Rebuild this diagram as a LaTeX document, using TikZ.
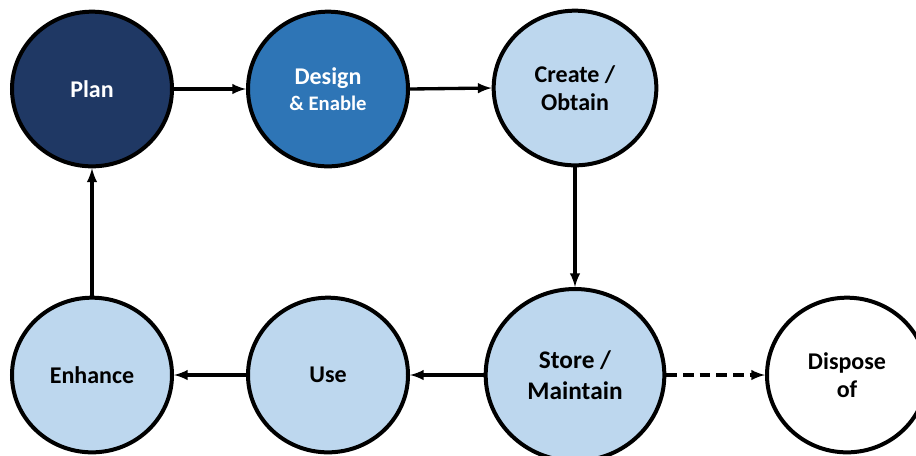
\documentclass[tikz,border=0pt]{standalone}
\usepackage{fontspec}
\setmainfont{Carlito}
\usetikzlibrary{shapes.geometric}

\definecolor{navy}{HTML}{1F3864}
\definecolor{midblue}{HTML}{2E75B6}
\definecolor{paleblue}{HTML}{BDD7EE}

\begin{document}
\begin{tikzpicture}[x=0.75pt,y=-0.75pt,>=latex]
	\tikzstyle{stage} = [ellipse, draw=black, line width=3pt, minimum width=120pt, minimum height=116pt, align=center, font=\fontsize{18}{21}\selectfont\bfseries]
	\tikzstyle{dark} = [stage, fill=navy, text=white]
	\tikzstyle{mid} = [stage, fill=midblue, text=white]
	\tikzstyle{pale} = [stage, fill=paleblue]
	\tikzstyle{flow} = [->, line width=2.5pt]
	\useasboundingbox (0,0) rectangle (916,455);

	\node[dark] (Plan) at (92,89) {Plan};
	\node[mid] (Design) at (328,89) {Design\\[-1pt]{\fontsize{15.5}{18}\selectfont \& Enable}};
	\node[pale, minimum width=122pt] (Create) at (575,88) {Create /\\Obtain};
	\node[pale, minimum width=134pt, minimum height=129pt, font=\fontsize{19}{23}\selectfont\bfseries] (Store) at (575,375) {Store /\\Maintain};
	\node[pale] (Use) at (328,375) {Use};
	\node[pale] (Enhance) at (92,375) {Enhance};
	\node[stage, fill=white] (Dispose) at (847,375) {Dispose\\of};

	\draw[flow] (Plan.east) -- (Design.west);
	\draw[flow] (Design.east) -- (Create.west);
	\draw[flow] (Create.south) -- (Store.north);
	\draw[flow] (Store.west) -- (Use.east);
	\draw[flow] (Use.west) -- (Enhance.east);
	\draw[flow] (Enhance.north) -- (Plan.south);
	\draw[flow, dash pattern=on 8pt off 4.5pt] (Store.east) -- (Dispose.west);
\end{tikzpicture}
\end{document}
